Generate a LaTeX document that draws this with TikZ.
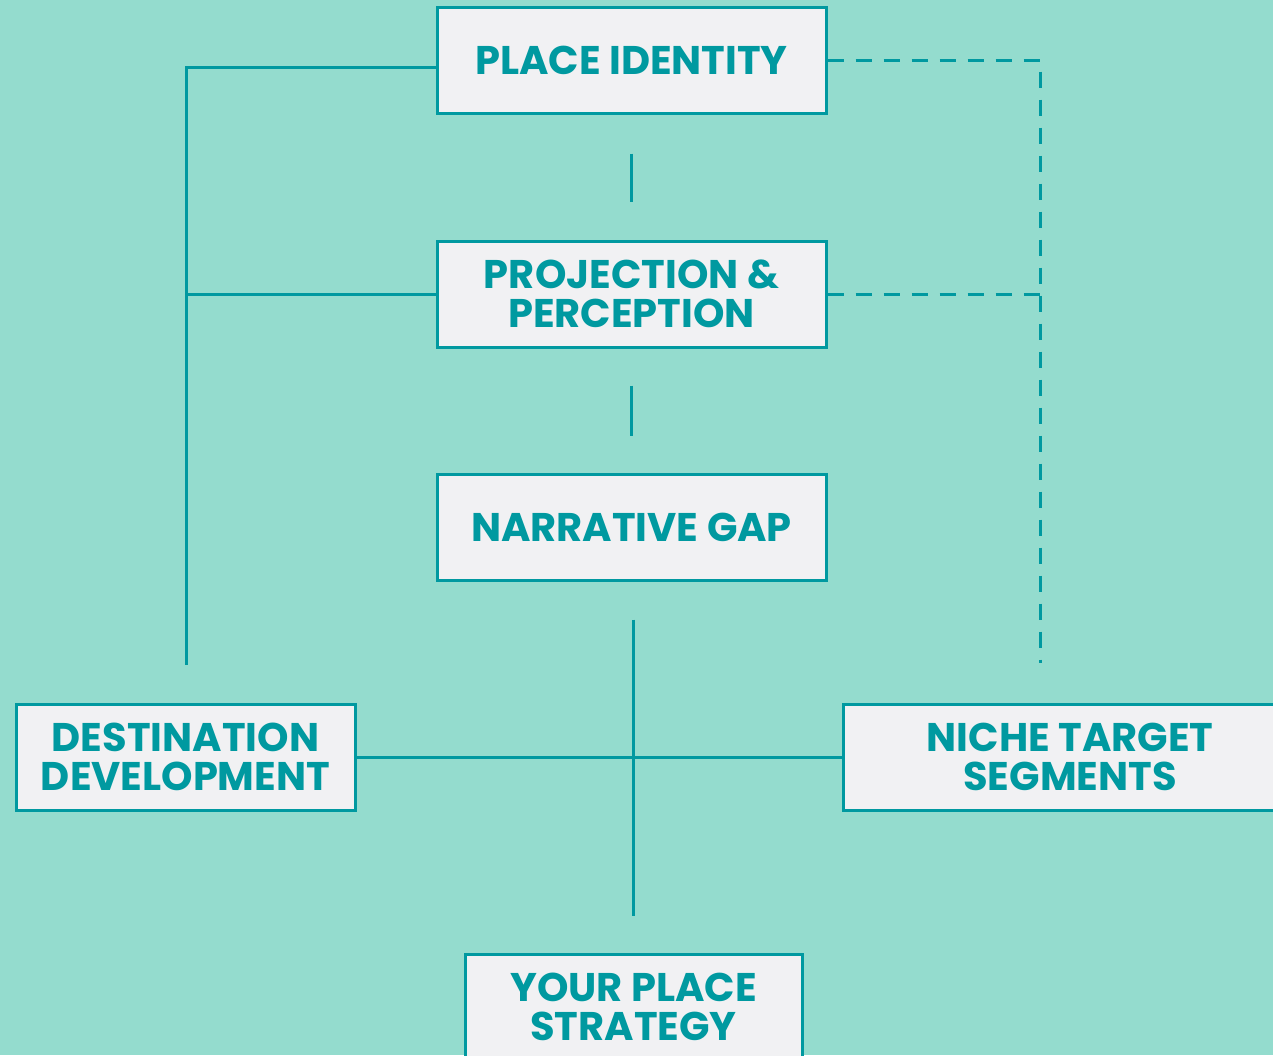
\documentclass[tikz,border=0pt]{standalone}
\usepackage{fontspec}
\setmainfont{Poppins}
\usepackage{tikz}

\definecolor{bgmint}{HTML}{94DCCE}
\definecolor{tealline}{HTML}{0099A0}
\definecolor{boxfill}{HTML}{F1F1F3}

\tikzset{
  stagebox/.style={draw=tealline, line width=1.5pt, fill=boxfill, text=tealline,
    font=\fontsize{20}{19.5}\selectfont\bfseries, align=center,
    minimum height=53pt, inner sep=0pt},
  link/.style={draw=tealline, line width=1.5pt},
  dashlink/.style={link, dash pattern=on 8pt off 6pt}
}

\begin{document}
\begin{tikzpicture}[x=0.5pt, y=-0.5pt]
			% Background
			\fill[bgmint] (0,0) rectangle (1273,1055);
			\useasboundingbox (0,0) rectangle (1273,1055);

			% Draw boxes
			\node[stagebox, minimum width=194.5pt] (ident) at (631.5,60) {PLACE IDENTITY};
			\node[stagebox, minimum width=194.5pt] (proj) at (631.5,294) {PROJECTION \&\\PERCEPTION};
			\node[stagebox, minimum width=194.5pt] (gap) at (631.5,527) {NARRATIVE GAP};
			\node[stagebox, minimum width=169.5pt] (dest) at (185.5,757) {DESTINATION\\DEVELOPMENT};
			\node[stagebox, minimum width=227pt] (niche) at (1070,757) {NICHE TARGET\\SEGMENTS};
			\node[stagebox, minimum width=168.5pt] (strat) at (633.5,1007) {YOUR PLACE\\STRATEGY};

			% Free ends
			\coordinate (lefttop) at (186,67);
			\coordinate (leftend) at (186,665);
			\coordinate (dashend) at (1040,663);

			% Left bracket
			\draw[link] ([yshift=-3.5pt]ident.west) -- (lefttop) -- (leftend);
			\draw[link] (proj.west) -- (proj.west -| lefttop);

			% Short ticks between stages
			\draw[link] ([yshift=-19.5pt]ident.south) -- ([yshift=19pt]proj.north);
			\draw[link] ([yshift=-18.5pt]proj.south) -- ([yshift=18.5pt]gap.north);

			% Cross
			\draw[link] ([yshift=-19pt]gap.south -| strat.north) -- ([yshift=18.5pt]strat.north);
			\draw[link] (dest.east) -- (niche.west);

			% Dashed bracket
			\draw[dashlink] (ident.east) -- (ident.east -| dashend) -- (dashend);
			\draw[dashlink] (proj.east) -- (proj.east -| dashend);
		\end{tikzpicture}
\end{document}
